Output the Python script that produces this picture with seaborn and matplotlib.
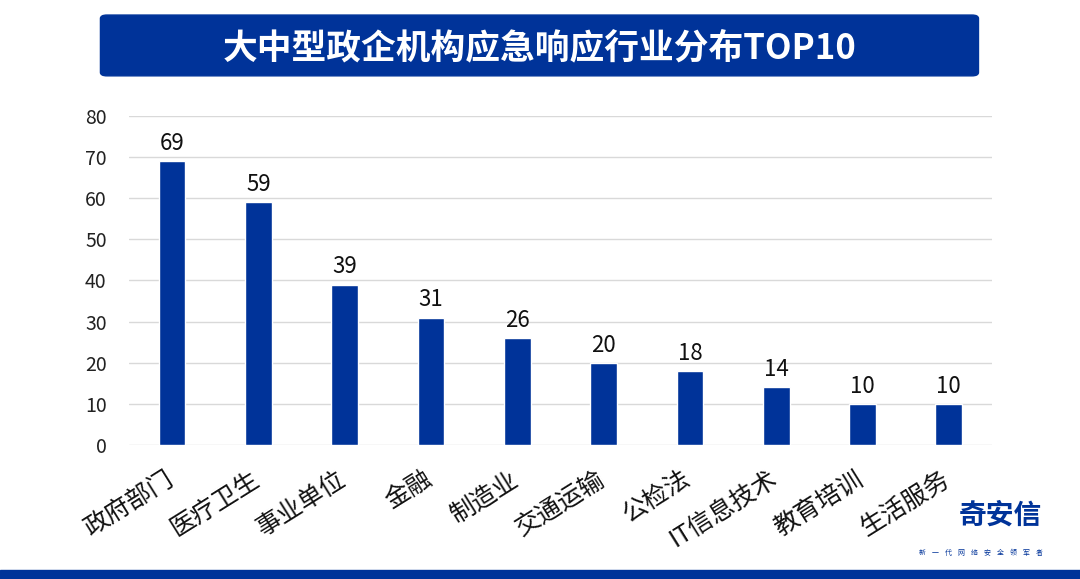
import seaborn as sns
import matplotlib.pyplot as plt
import matplotlib.transforms as mtransforms
from matplotlib.patches import FancyBboxPatch, Rectangle

# data
industries = ['政府部门', '医疗卫生', '事业单位', '金融', '制造业',
              '交通运输', '公检法', 'IT信息技术', '教育培训', '生活服务']
counts = [69, 59, 39, 31, 26, 20, 18, 14, 10, 10]
y_ticks = [0, 10, 20, 30, 40, 50, 60, 70, 80]
title = '大中型政企机构应急响应行业分布TOP10'

blue = '#003399'

sns.set_theme(style='white')
plt.rcParams['font.family'] = ['Noto Sans CJK SC', 'DejaVu Sans']

fig = plt.figure(figsize=(10.8, 5.79), dpi=100)
ax = fig.add_axes([0.1194, 0.2314, 0.7991, 0.5683])

sns.barplot(x=industries, y=counts, color=blue, width=0.31, saturation=1, ax=ax)

ax.set_ylim(0, 80)
ax.set_yticks(y_ticks)
ax.set_xlim(-0.5, len(industries) - 0.5)
ax.yaxis.grid(True, color='#d9d9d9', linewidth=1)
ax.set_axisbelow(True)
for s in ax.spines.values():
    s.set_visible(False)
ax.tick_params(axis='y', labelsize=14, colors='#222222', pad=16, length=0)
ax.tick_params(axis='x', labelsize=18, colors='#111111', length=0, pad=15)
plt.setp(ax.get_xticklabels(), rotation=32, ha='right', rotation_mode='anchor')
# shift the rotated labels a little to the left, like the original
shift = mtransforms.ScaledTranslation(-0.08, 0, fig.dpi_scale_trans)
for lbl in ax.get_xticklabels():
    lbl.set_transform(lbl.get_transform() + shift)
ax.set_xlabel('')
ax.set_ylabel('')

# value labels on top of the bars
for i, v in enumerate(counts):
    ax.text(i, v + 1.5, str(v), ha='center', va='bottom', fontsize=16, color='#111111')

# title banner
fig.patches.append(FancyBboxPatch((0.093, 0.869), 0.813, 0.105,
                                  boxstyle='round,pad=0,rounding_size=0.006',
                                  transform=fig.transFigure, color=blue, zorder=0))
fig.text(0.5, 0.918, title, ha='center', va='center', color='white',
         fontsize=25, fontweight='bold')

# bottom strip
fig.patches.append(Rectangle((0, 0), 1, 0.016, transform=fig.transFigure, color=blue))

# logo text
fig.text(0.888, 0.11, '奇安信', ha='left', va='center', color=blue,
         fontsize=20, fontweight='bold')
fig.text(0.908, 0.045, '新    一    代    网    络    安    全    领    军    者',
         ha='center', va='center', color=blue, fontsize=5)

fig.savefig('out.png', dpi=100)
